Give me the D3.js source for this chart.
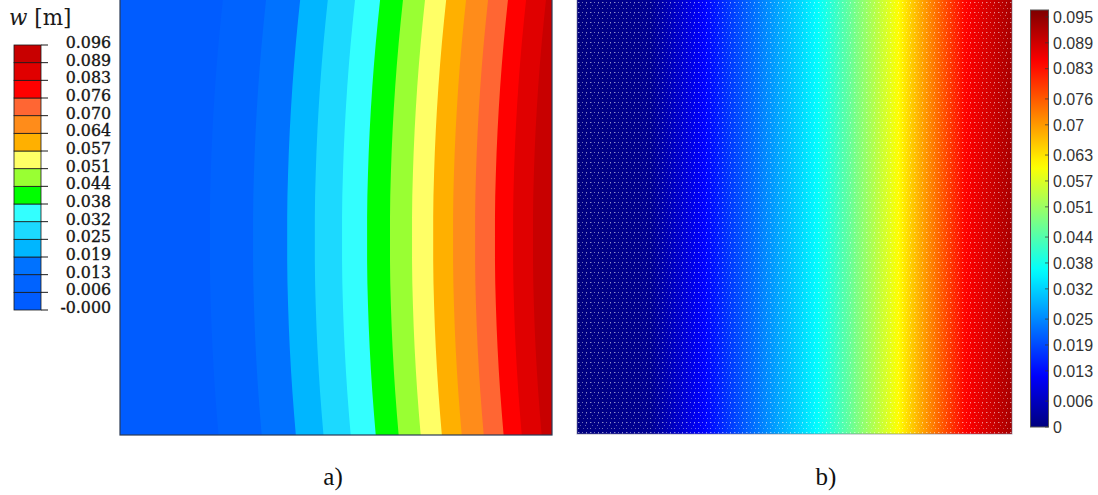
<!DOCTYPE html>
<html>
<head>
<meta charset="utf-8">
<script src="https://cdn.jsdelivr.net/npm/d3@7"></script>
<style>
  html, body { margin: 0; padding: 0; background: #fff; }
  svg { display: block; }
</style>
</head>
<body>
<svg id="fig" width="1098" height="495"></svg>
<script>
// ---- Panel a: banded contour plot of plate deflection w [m] ----
const levels = [0.000, 0.006, 0.013, 0.019, 0.025, 0.032, 0.038, 0.044, 0.051, 0.057, 0.064, 0.070, 0.076, 0.083, 0.089, 0.096];
const levelLabels = ["-0.000", "0.006", "0.013", "0.019", "0.025", "0.032", "0.038", "0.044",
                     "0.051", "0.057", "0.064", "0.070", "0.076", "0.083", "0.089", "0.096"];
// fill of each band, lowest band first
const bandColors = ["#005cff", "#0063ff", "#0072ff", "#00b6ff", "#1cd9ff", "#33ffff", "#00ff00", "#99ff33",
                    "#ffff66", "#ffb000", "#ff8c1a", "#ff6633", "#ff0000", "#e00000", "#c80000"];
// where each interior level crosses the plate at mid-height (fraction of plate width)
const levelCrossX = [0.208, 0.308, 0.387, 0.451, 0.514, 0.572, 0.625, 0.676, 0.725, 0.771, 0.822, 0.868, 0.910, 0.956];
// bow of the contour lines: rightward offset (fraction of width) against height (0 = top edge)
const bowY      = [0.0,   0.1,   0.2,   0.3,   0.4,   0.5,   0.6,   0.7,   0.8,   0.9,   1.0];
const bowOffset = [0.030, 0.020, 0.012, 0.006, 0.002, 0.000, 0.000, 0.002, 0.006, 0.012, 0.020];

// ---- Panel b: continuous field with jet colour map ----
const colorbarTicks = [0, 0.006, 0.013, 0.019, 0.025, 0.032, 0.038, 0.044, 0.051, 0.057, 0.063, 0.07, 0.076, 0.083, 0.089, 0.095];
const colorbarMax = 0.0966;
// deflection across the plate width (fraction of width -> w)
const fieldX = [0, 0.17, 0.292, 0.552, 0.736, 0.890, 1];
const fieldW = [0, 0.002, 0.012, 0.036, 0.060, 0.084, 0.093];
const jetStops  = [0, 0.125, 0.375, 0.625, 0.875, 1];
const jetColors = ["#00007f", "#0000ff", "#00ffff", "#ffff00", "#ff0000", "#7f0000"];

const panelLabels = ["a)", "b)"];

const svg = d3.select("#fig");
const defs = svg.append("defs");

// ===== Panel a =====
const xa = d3.scaleLinear().domain([0, 1]).range([120, 552]);
const ya = d3.scaleLinear().domain([0, 1]).range([0, 435]);
const gA = svg.append("g");

gA.append("rect")
  .attr("x", xa(0)).attr("y", ya(0))
  .attr("width", xa(1) - xa(0)).attr("height", ya(1) - ya(0))
  .attr("fill", bandColors[0]);

const bowPts = bowY.map((v, j) => ({ v, o: bowOffset[j] }));
levelCrossX.forEach((cx, i) => {
  const area = d3.area()
    .y(d => ya(d.v))
    .x0(d => xa(cx + d.o))
    .x1(xa(1))
    .curve(d3.curveMonotoneY);
  gA.append("path")
    .datum(bowPts)
    .attr("d", area)
    .attr("fill", bandColors[i + 1]);
});

gA.append("rect")
  .attr("x", xa(0)).attr("y", ya(0) - 1)
  .attr("width", xa(1) - xa(0)).attr("height", ya(1) - ya(0) + 1)
  .attr("fill", "none").attr("stroke", "#2b3a55").attr("stroke-width", 1.2);

// legend of panel a
const legY = d3.scaleLinear().domain([0, levels.length - 1]).range([310, 45]);
const gL = svg.append("g");
bandColors.forEach((c, i) => {
  gL.append("rect")
    .attr("x", 14).attr("y", legY(i + 1))
    .attr("width", 27).attr("height", legY(i) - legY(i + 1))
    .attr("fill", c).attr("stroke", "#1a1a1a").attr("stroke-width", 0.8);
});
levels.forEach((v, i) => {
  gL.append("line")
    .attr("x1", 41).attr("x2", 48)
    .attr("y1", legY(i)).attr("y2", legY(i))
    .attr("stroke", "#1a1a1a").attr("stroke-width", 1);
  gL.append("text")
    .attr("x", 111).attr("y", legY(i) + 3)
    .attr("text-anchor", "end")
    .attr("font-family", "DejaVu Serif")
    .attr("font-size", 15.8)
    .attr("fill", "#151515")
    .attr("stroke", "#151515").attr("stroke-width", 0.35)
    .text(levelLabels[i]);
});
const title = gL.append("text")
  .attr("x", 9).attr("y", 25)
  .attr("font-family", "DejaVu Serif")
  .attr("font-size", 21.5)
  .attr("fill", "#1a1a1a");
title.append("tspan").attr("font-style", "italic").text("w");
title.append("tspan").text(" [m]");

// ===== Panel b =====
const xb = d3.scaleLinear().domain([0, 1]).range([577, 1012]);
const yb = d3.scaleLinear().domain([0, 1]).range([0, 434]);
const jet = d3.scaleLinear().domain(jetStops.map(t => t * colorbarMax)).range(jetColors).clamp(true);
const wAcross = d3.scaleLinear().domain(fieldX).range(fieldW);

const gradB = defs.append("linearGradient").attr("id", "fieldGrad")
  .attr("x1", "0%").attr("x2", "100%").attr("y1", "0%").attr("y2", "0%");
d3.range(0, 1.0001, 0.01).forEach(p => {
  gradB.append("stop").attr("offset", (p * 100) + "%").attr("stop-color", jet(wAcross(p)));
});

// fine grid of light mesh nodes over the field
const pat = defs.append("pattern").attr("id", "meshDots")
  .attr("patternUnits", "userSpaceOnUse")
  .attr("x", 577).attr("y", 1)
  .attr("width", 12).attr("height", 10);
[[1, 1, 0.55], [5, 1, 0.45], [9, 1, 0.55], [3, 4, 0.35], [8, 4, 0.4],
 [1, 7, 0.45], [6, 7, 0.3], [10, 7, 0.4], [2, 1, 0.25], [9, 2, 0.25]]
  .forEach(([px, py, op]) => {
    pat.append("rect").attr("x", px).attr("y", py).attr("width", 1).attr("height", 1)
      .attr("fill", "#ffffff").attr("fill-opacity", op);
  });

const gB = svg.append("g");
gB.append("rect")
  .attr("x", xb(0)).attr("y", yb(0))
  .attr("width", xb(1) - xb(0)).attr("height", yb(1) - yb(0))
  .attr("fill", "url(#fieldGrad)");
gB.append("rect")
  .attr("x", xb(0)).attr("y", yb(0))
  .attr("width", xb(1) - xb(0)).attr("height", yb(1) - yb(0))
  .attr("fill", "url(#meshDots)");
gB.append("rect")
  .attr("x", xb(0)).attr("y", yb(0) - 1)
  .attr("width", xb(1) - xb(0)).attr("height", yb(1) - yb(0) + 1)
  .attr("fill", "none").attr("stroke", "#7a7a90").attr("stroke-opacity", 0.6).attr("stroke-width", 1);

// colour bar of panel b
const cbY = d3.scaleLinear().domain([0, colorbarMax]).range([427, 10]);
const gradC = defs.append("linearGradient").attr("id", "barGrad")
  .attr("x1", "0%").attr("x2", "0%").attr("y1", "100%").attr("y2", "0%");
d3.range(0, 1.0001, 0.02).forEach(p => {
  gradC.append("stop").attr("offset", (p * 100) + "%").attr("stop-color", jet(p * colorbarMax));
});
const gC = svg.append("g");
gC.append("rect")
  .attr("x", 1030.5).attr("y", cbY(colorbarMax))
  .attr("width", 18).attr("height", cbY(0) - cbY(colorbarMax))
  .attr("fill", "url(#barGrad)")
  .attr("stroke", "#555").attr("stroke-width", 1);
colorbarTicks.forEach(t => {
  gC.append("line")
    .attr("x1", 1045).attr("x2", 1048.5)
    .attr("y1", cbY(t)).attr("y2", cbY(t))
    .attr("stroke", "#333").attr("stroke-opacity", 0.7).attr("stroke-width", 1);
  gC.append("text")
    .attr("x", 1053).attr("y", cbY(t))
    .attr("dy", "0.36em")
    .attr("font-family", "Liberation Sans, Arial, sans-serif")
    .attr("font-size", 16)
    .attr("fill", "#333")
    .text(String(t));
});

// panel captions
[[333, panelLabels[0]], [826, panelLabels[1]]].forEach(([cx, s]) => {
  svg.append("text")
    .attr("x", cx).attr("y", 485)
    .attr("text-anchor", "middle")
    .attr("font-family", "Liberation Serif, Times New Roman, serif")
    .attr("font-size", 25)
    .attr("fill", "#111")
    .text(s);
});
</script>
</body>
</html>
